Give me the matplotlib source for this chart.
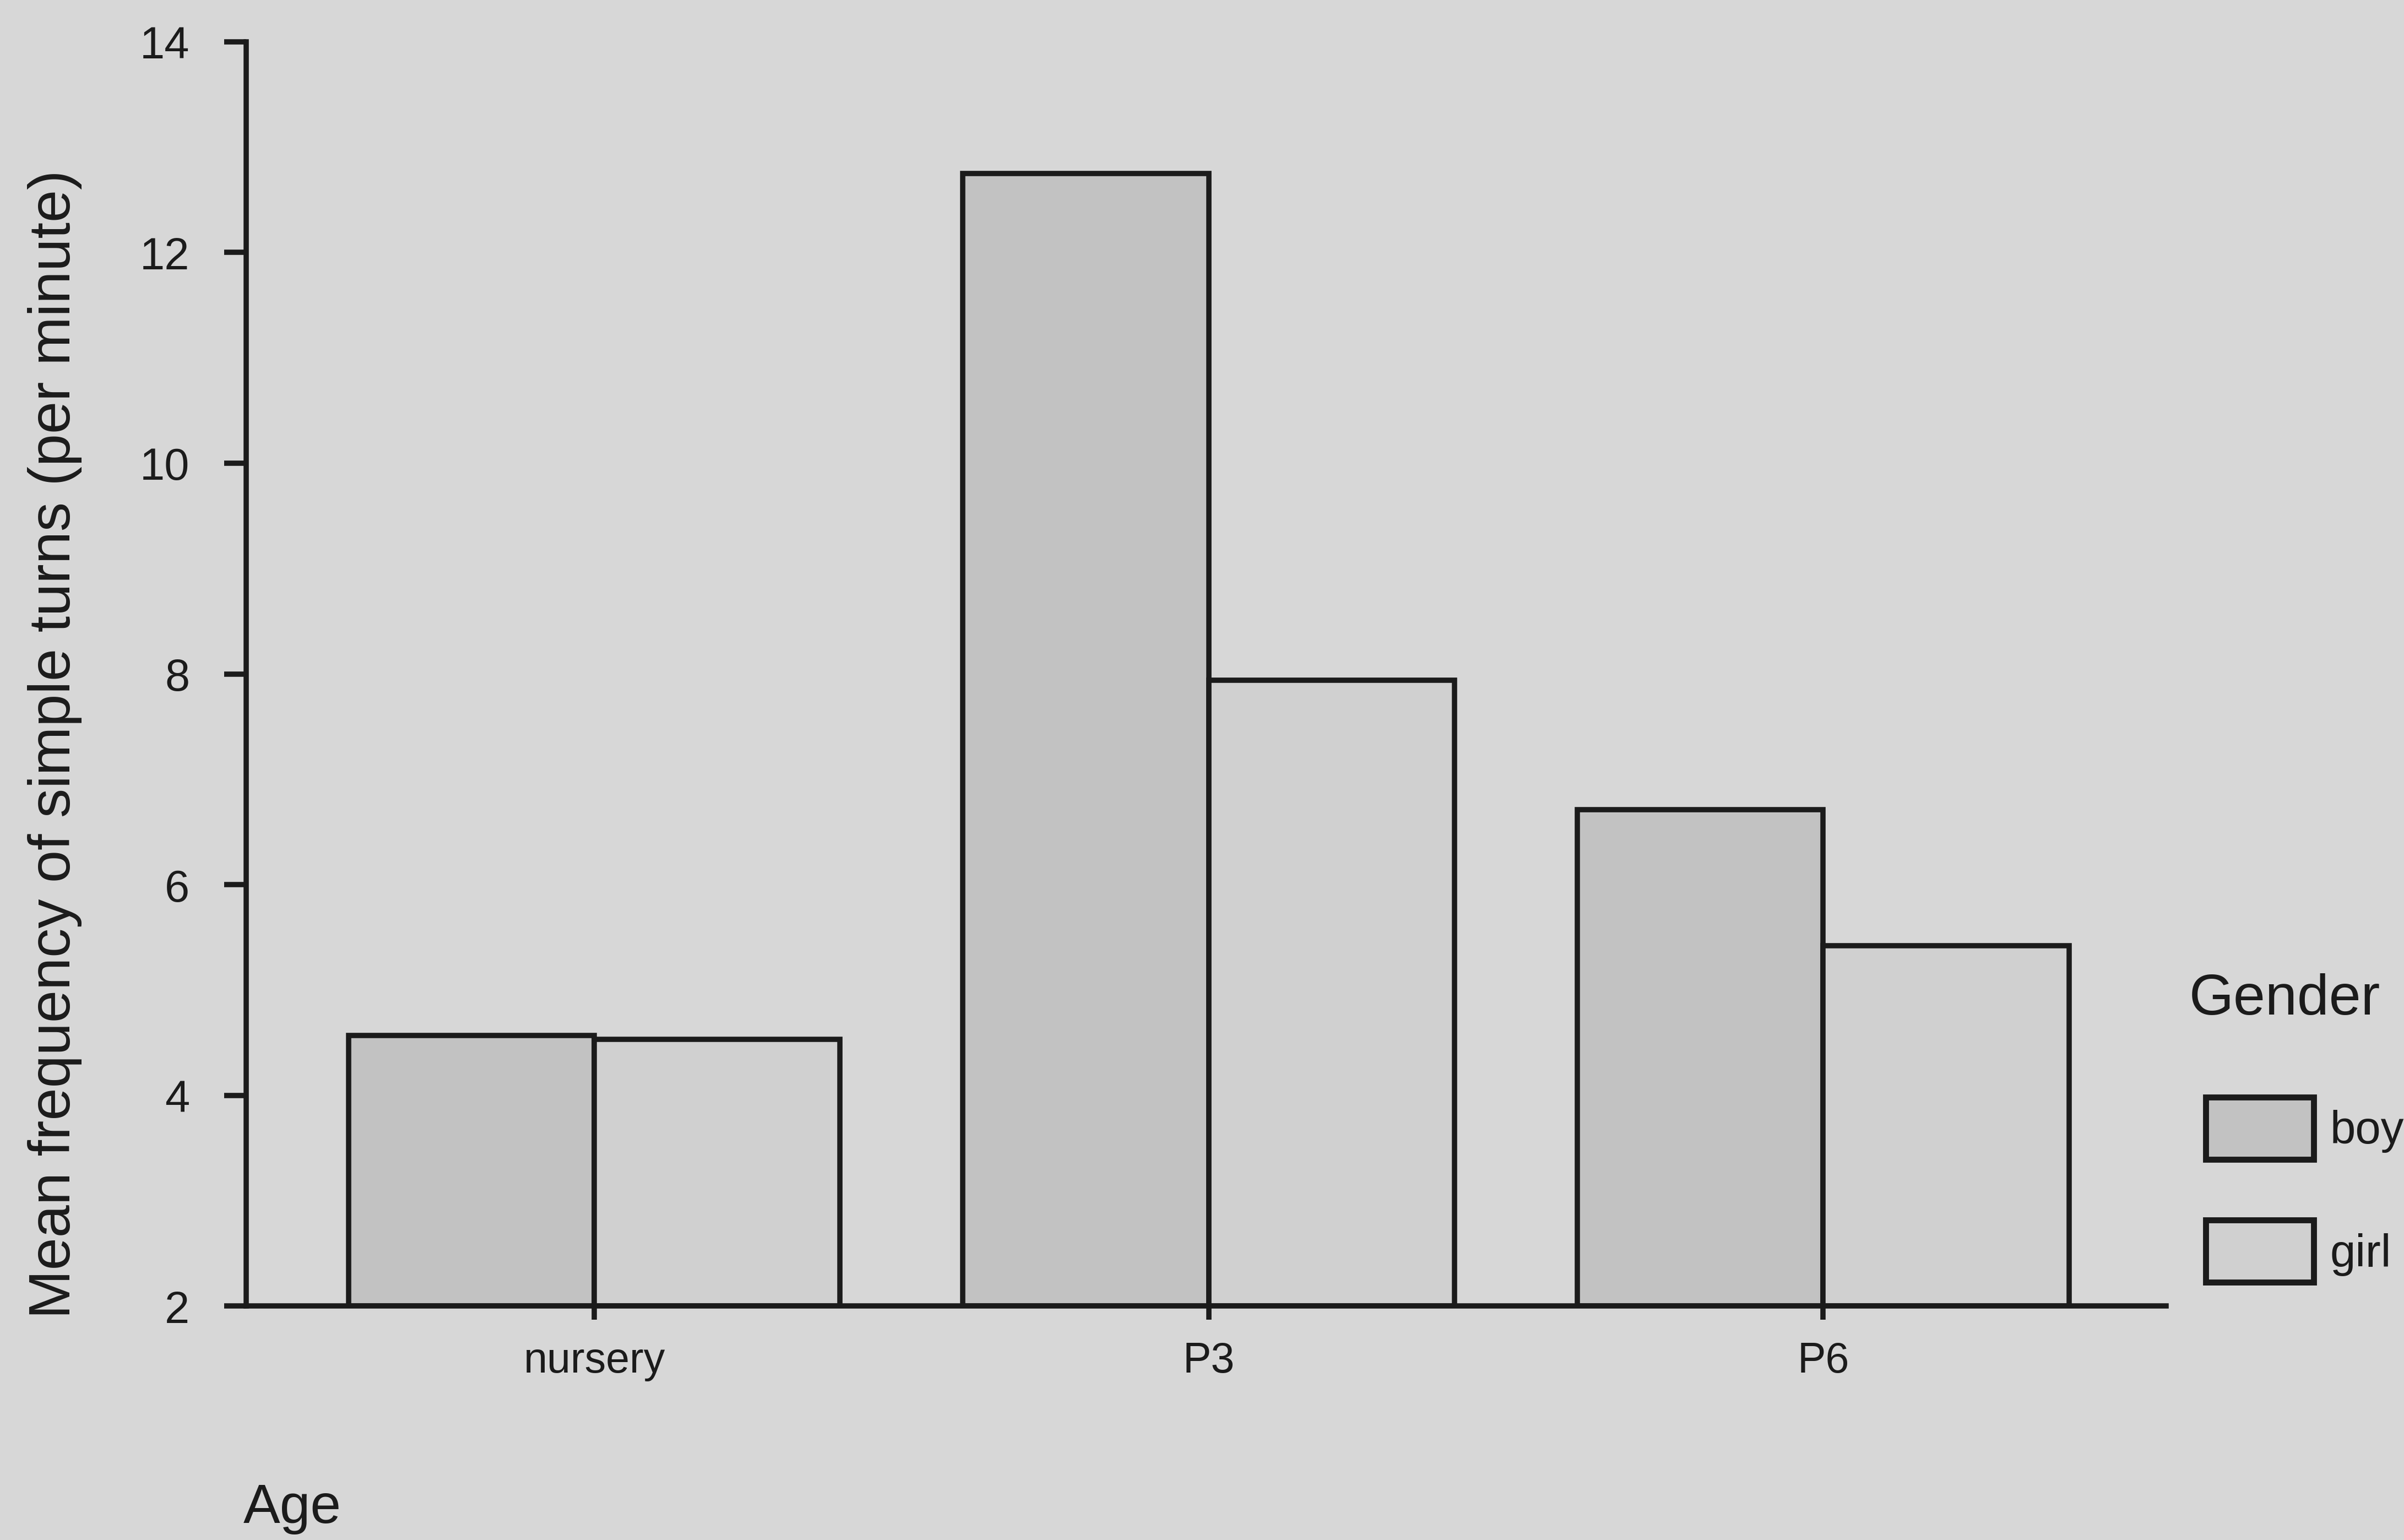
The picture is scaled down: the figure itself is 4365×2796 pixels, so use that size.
import matplotlib
matplotlib.use("Agg")
import matplotlib.pyplot as plt
import numpy as np

# ---- data ----
ages = ["nursery", "P3", "P6"]
genders = ["boy", "girl"]
boy_values = [4.57, 12.75, 6.71]
girl_values = [4.53, 7.94, 5.42]
y_ticks = [2, 4, 6, 8, 10, 12, 14]

# ---- style ----
plt.rcParams['font.family'] = ['Liberation Sans', 'DejaVu Sans']
bg = "#d7d7d7"
boy_color = "#c2c2c2"
girl_color = "#d0d0d0"
ink = "#1b1b1b"
lw = 2.3

fig = plt.figure(figsize=(14.55, 9.3233), dpi=300, facecolor=bg)
ax = fig.add_axes([0.1024, 0.1519, 0.7986, 0.8206])
ax.set_facecolor(bg)

x = np.arange(len(ages))
w = 0.40
b1 = ax.bar(x - w / 2, np.array(boy_values) - 2, width=w, bottom=2, color=boy_color,
            edgecolor=ink, linewidth=lw, label=genders[0])
b2 = ax.bar(x + w / 2, np.array(girl_values) - 2, width=w, bottom=2, color=girl_color,
            edgecolor=ink, linewidth=lw, label=genders[1])

ax.set_ylim(2, 14)
ax.set_xlim(-0.5666, 2.558)
ax.set_yticks(y_ticks)
ax.set_xticks(x)
ax.set_xticklabels(ages)

for s in ["top", "right"]:
    ax.spines[s].set_visible(False)
for s in ["left", "bottom"]:
    ax.spines[s].set_linewidth(lw)
    ax.spines[s].set_color(ink)

ax.tick_params(axis="y", direction="out", length=9.6, width=lw, color=ink,
               labelsize=19.5, pad=15, labelcolor=ink)
ax.tick_params(axis="x", direction="out", length=6, width=lw, color=ink,
               labelsize=18.5, pad=9, labelcolor=ink)

fig.text(100 / 4365, 1 - 1351 / 2797, "Mean frequency of simple turns (per minute)",
         rotation=90, ha="center", va="center", fontsize=25.5, color=ink)
fig.text(442 / 4365, 1 - 2765 / 2797, "Age", ha="left", va="baseline",
         fontsize=24, color=ink)
fig.text(3975 / 4365, 1 - 1842 / 2797, "Gender", ha="left", va="baseline",
         fontsize=25, color=ink)

leg = ax.legend(handles=[b1, b2], labels=genders,
                loc="upper left", bbox_to_anchor=(4005 / 4365, 1 - 1993 / 2797),
                bbox_transform=fig.transFigure, frameon=False, fontsize=20,
                handlelength=2.35, handleheight=1.70, labelspacing=1.33,
                handletextpad=0.36, borderpad=0, borderaxespad=0)
for t in leg.get_texts():
    t.set_color(ink)
for p in leg.get_patches():
    p.set_linewidth(lw + 0.3)

fig.savefig("out.png", dpi=300, facecolor=bg)
